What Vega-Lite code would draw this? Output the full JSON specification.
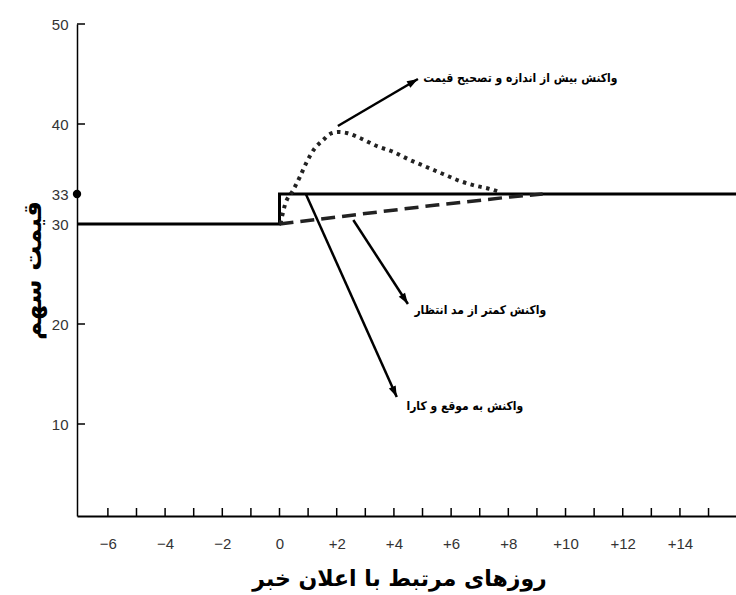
{
  "$schema": "https://vega.github.io/schema/vega-lite/v6.json",
  "width": 659,
  "height": 492,
  "autosize": "none",
  "padding": {"left": 77, "top": 24, "right": 0, "bottom": 79},
  "background": "white",
  "config": {"view": {"stroke": null}, "axis": {"grid": false}},
  "datasets": {
    "lines": [
      {"series": "solid", "seq": 1, "day": -7.08, "price": 30},
      {"series": "solid", "seq": 2, "day": 0, "price": 30},
      {"series": "solid", "seq": 3, "day": 0, "price": 33},
      {"series": "solid", "seq": 4, "day": 15.96, "price": 33},
      {"series": "dotted", "seq": 1, "day": 0.03, "price": 30},
      {"series": "dotted", "seq": 2, "day": 0.19, "price": 31.9},
      {"series": "dotted", "seq": 3, "day": 0.48, "price": 33.4},
      {"series": "dotted", "seq": 4, "day": 0.71, "price": 34.7},
      {"series": "dotted", "seq": 5, "day": 0.95, "price": 36.2},
      {"series": "dotted", "seq": 6, "day": 1.24, "price": 37.6},
      {"series": "dotted", "seq": 7, "day": 1.53, "price": 38.4},
      {"series": "dotted", "seq": 8, "day": 1.76, "price": 39.0},
      {"series": "dotted", "seq": 9, "day": 2.05, "price": 39.2},
      {"series": "dotted", "seq": 10, "day": 2.35, "price": 39.1},
      {"series": "dotted", "seq": 11, "day": 2.81, "price": 38.6},
      {"series": "dotted", "seq": 12, "day": 3.4, "price": 37.8},
      {"series": "dotted", "seq": 13, "day": 3.98, "price": 37.2},
      {"series": "dotted", "seq": 14, "day": 4.56, "price": 36.4},
      {"series": "dotted", "seq": 15, "day": 5.14, "price": 35.7},
      {"series": "dotted", "seq": 16, "day": 5.72, "price": 35.0},
      {"series": "dotted", "seq": 17, "day": 6.31, "price": 34.3},
      {"series": "dotted", "seq": 18, "day": 6.89, "price": 33.8},
      {"series": "dotted", "seq": 19, "day": 7.36, "price": 33.5},
      {"series": "dotted", "seq": 20, "day": 7.7, "price": 33.2},
      {"series": "dashed", "seq": 1, "day": 0, "price": 30},
      {"series": "dashed", "seq": 2, "day": 3.16, "price": 31.1},
      {"series": "dashed", "seq": 3, "day": 5.49, "price": 31.9},
      {"series": "dashed", "seq": 4, "day": 8.06, "price": 32.7},
      {"series": "dashed", "seq": 5, "day": 9.2, "price": 33}
    ],
    "arrows": [
      {"arrow": "over", "day": 2.04, "price": 39.8, "day2": 4.84, "price2": 44.5},
      {"arrow": "under", "day": 2.58, "price": 30.4, "day2": 4.49, "price2": 22.0},
      {"arrow": "efficient", "day": 0.92, "price": 33.0, "day2": 4.1, "price2": 12.7}
    ],
    "labels": [
      {"label": "واکنش بیش از اندازه و تصحیح قیمت", "day": 8.42, "price": 44.6},
      {"label": "واکنش کمتر از مد انتظار", "day": 7.02, "price": 21.4},
      {"label": "واکنش به موقع و کارا", "day": 6.48, "price": 11.8}
    ],
    "xticks": [
      {"day": -6}, {"day": -5}, {"day": -4}, {"day": -3}, {"day": -2}, {"day": -1},
      {"day": 0}, {"day": 1}, {"day": 2}, {"day": 3}, {"day": 4}, {"day": 5},
      {"day": 6}, {"day": 7}, {"day": 8}, {"day": 9}, {"day": 10}, {"day": 11},
      {"day": 12}, {"day": 13}, {"day": 14}, {"day": 15}
    ],
    "yticks": [{"price": 10}, {"price": 20}, {"price": 30}, {"price": 40}, {"price": 50}],
    "dot": [{"day": -7.08, "price": 33}]
  },
  "layer": [
    {
      "data": {"name": "lines"},
      "transform": [{"filter": "datum.series == 'solid'"}],
      "mark": {"type": "line", "color": "black", "strokeWidth": 3},
      "encoding": {
        "x": {
          "field": "day", "type": "quantitative",
          "scale": {"domain": [-7.08, 15.96], "nice": false, "zero": false},
          "axis": {
            "values": [-6, -4, -2, 0, 2, 4, 6, 8, 10, 12, 14],
            "labelExpr": "datum.value > 0 ? '+' + datum.value : (datum.value < 0 ? '−' + (-datum.value) : '0')",
            "ticks": false,
            "domainColor": "black", "domainWidth": 2,
            "labelFont": "Liberation Sans", "labelFontSize": 15, "labelColor": "#333",
            "labelPadding": 20, "labelFlush": false, "labelOverlap": false,
            "title": "روزهای مرتبط با اعلان خبر",
            "titleFont": "DejaVu Sans", "titleFontWeight": "bold", "titleFontSize": 22,
            "titleColor": "black", "titlePadding": 17, "titleX": 322
          }
        },
        "y": {
          "field": "price", "type": "quantitative",
          "scale": {"domain": [0.8, 50], "nice": false, "zero": false},
          "axis": {
            "values": [10, 20, 30, 33, 40, 50],
            "ticks": false,
            "domainColor": "black", "domainWidth": 1.5,
            "labelFont": "Liberation Sans", "labelFontSize": 15, "labelColor": "#333",
            "labelPadding": 9, "labelOverlap": false,
            "title": "قیمت سهم",
            "titleFont": "DejaVu Sans", "titleFontWeight": "bold", "titleFontSize": 25,
            "titleColor": "black", "titlePadding": 6
          }
        },
        "order": {"field": "seq"}
      }
    },
    {
      "data": {"name": "xticks"},
      "mark": {"type": "rule", "color": "black", "strokeWidth": 1.5},
      "encoding": {
        "x": {"field": "day", "type": "quantitative"},
        "y": {"datum": 0.8},
        "y2": {"datum": 1.6}
      }
    },
    {
      "data": {"name": "yticks"},
      "mark": {"type": "rule", "color": "black", "strokeWidth": 1.5},
      "encoding": {
        "y": {"field": "price", "type": "quantitative"},
        "x": {"datum": -7.08},
        "x2": {"datum": -6.8}
      }
    },
    {
      "data": {"name": "lines"},
      "transform": [{"filter": "datum.series == 'dotted'"}],
      "mark": {"type": "line", "color": "#222", "strokeWidth": 4, "strokeDash": [3.5, 4.5], "interpolate": "monotone"},
      "encoding": {
        "x": {"field": "day", "type": "quantitative"},
        "y": {"field": "price", "type": "quantitative"},
        "order": {"field": "seq"}
      }
    },
    {
      "data": {"name": "lines"},
      "transform": [{"filter": "datum.series == 'dashed'"}],
      "mark": {"type": "line", "color": "#222", "strokeWidth": 3.5, "strokeDash": [14, 7]},
      "encoding": {
        "x": {"field": "day", "type": "quantitative"},
        "y": {"field": "price", "type": "quantitative"},
        "order": {"field": "seq"}
      }
    },
    {
      "data": {"name": "arrows"},
      "mark": {"type": "rule", "color": "black", "strokeWidth": 2.5},
      "encoding": {
        "x": {"field": "day", "type": "quantitative"},
        "y": {"field": "price", "type": "quantitative"},
        "x2": {"field": "day2"},
        "y2": {"field": "price2"}
      }
    },
    {
      "data": {"name": "arrows"},
      "transform": [{"filter": "datum.arrow == 'over'"}],
      "mark": {"type": "point", "shape": "M0,0L-0.75,2.2L0.75,2.2Z", "filled": true, "color": "black", "opacity": 1, "size": 100, "angle": 59.6},
      "encoding": {
        "x": {"field": "day2", "type": "quantitative"},
        "y": {"field": "price2", "type": "quantitative"}
      }
    },
    {
      "data": {"name": "arrows"},
      "transform": [{"filter": "datum.arrow == 'under'"}],
      "mark": {"type": "point", "shape": "M0,0L-0.75,2.2L0.75,2.2Z", "filled": true, "color": "black", "opacity": 1, "size": 100, "angle": 146.8},
      "encoding": {
        "x": {"field": "day2", "type": "quantitative"},
        "y": {"field": "price2", "type": "quantitative"}
      }
    },
    {
      "data": {"name": "arrows"},
      "transform": [{"filter": "datum.arrow == 'efficient'"}],
      "mark": {"type": "point", "shape": "M0,0L-0.75,2.2L0.75,2.2Z", "filled": true, "color": "black", "opacity": 1, "size": 100, "angle": 155.9},
      "encoding": {
        "x": {"field": "day2", "type": "quantitative"},
        "y": {"field": "price2", "type": "quantitative"}
      }
    },
    {
      "data": {"name": "labels"},
      "mark": {"type": "text", "font": "DejaVu Sans Condensed, DejaVu Sans", "fontWeight": "bold", "fontSize": 12, "align": "center", "baseline": "middle", "color": "black"},
      "encoding": {
        "x": {"field": "day", "type": "quantitative"},
        "y": {"field": "price", "type": "quantitative"},
        "text": {"field": "label"}
      }
    },
    {
      "data": {"name": "dot"},
      "mark": {"type": "point", "shape": "circle", "filled": true, "color": "black", "opacity": 1, "size": 70},
      "encoding": {
        "x": {"field": "day", "type": "quantitative"},
        "y": {"field": "price", "type": "quantitative"}
      }
    }
  ]
}
